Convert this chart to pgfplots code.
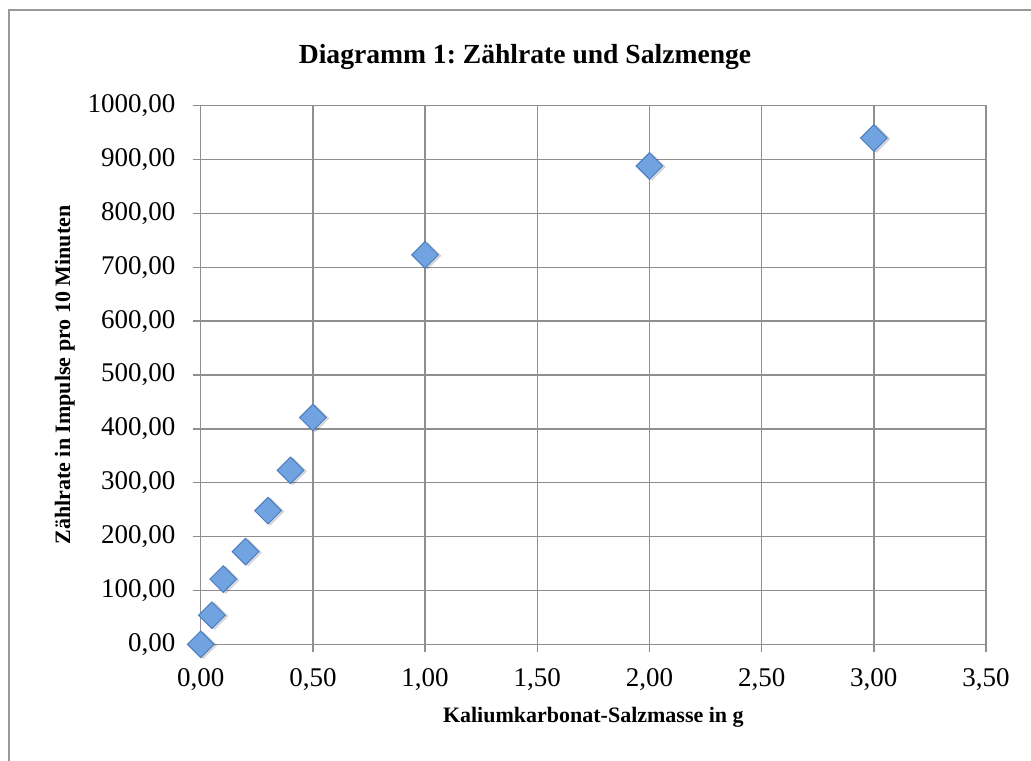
\documentclass[border=0pt]{standalone}
\usepackage{pgfplots}
\pgfplotsset{compat=1.18}
\usepackage{fontspec}
\setmainfont{Liberation Serif}
\frenchspacing
\definecolor{gridgray}{HTML}{8F8F8F}
\definecolor{markfill}{HTML}{72A3E1}
\definecolor{markdraw}{HTML}{4A7CC0}
\begin{document}
\begin{tikzpicture}
\begin{axis}[
    name=ax,
    at={(0,0)}, anchor=south west,
    scale only axis,
    width=392.65pt, height=269.3pt,
    xmin=0, xmax=3.5, ymin=0, ymax=1000,
    xtick={0,0.5,...,3.5},
    ytick={0,100,...,1000},
    xtick pos=bottom, ytick pos=left,
    grid=major,
    major grid style={gridgray, line width=0.7pt},
    axis line style={gridgray, line width=0.7pt},
    tick style={gridgray, line width=0.7pt},
    tick align=outside,
    major tick length=4pt,
    clip=false,
    /pgf/number format/.cd, use comma, fixed, fixed zerofill, precision=2, 1000 sep={}, assume math mode=true,
    /pgfplots/.cd,
    ticklabel style={font=\fontsize{13.5}{15}\selectfont},
    xticklabel style={inner sep=0pt, yshift=-8pt},
    yticklabel style={inner sep=0pt, xshift=-8.5pt},
    xlabel={\textbf{Kaliumkarbonat-Salzmasse in g}},
    ylabel={\textbf{Zählrate in Impulse pro 10 Minuten}},
    label style={font=\fontsize{11}{13}\selectfont},
    xlabel style={at={(axis description cs:0.5,-0.1461)}, anchor=base},
    ylabel style={at={(axis description cs:-0.1664,0.5)}, anchor=base},
]
% shadow
\addplot[only marks, mark=square*, mark size=4.7pt,
    mark options={rotate=45, fill=black, draw=none, opacity=0.13, xshift=0.6pt, yshift=-1.2pt}]
    coordinates {(0,0) (0.05,54) (0.1,121) (0.2,172) (0.3,248) (0.4,323) (0.5,421) (1,723) (2,888) (3,940)};
\addplot[only marks, mark=square*, mark size=4.7pt,
    mark options={rotate=45, fill=markfill, draw=markdraw, line width=0.5pt}]
    coordinates {(0,0) (0.05,54) (0.1,121) (0.2,172) (0.3,248) (0.4,323) (0.5,421) (1,723) (2,888) (3,940)};
\end{axis}
\path[use as bounding box] (-100.35pt,-57.85pt) rectangle (415.15pt,322.15pt);
\draw[gray!80, line width=1pt] (-96pt,-60pt) -- (-96pt,317.15pt) -- (420pt,317.15pt);
\node[anchor=base, font=\bfseries\fontsize{13.8}{16}\selectfont] at (162.15pt,290.5pt) {Diagramm 1: Zählrate und Salzmenge};
\end{tikzpicture}
\end{document}
